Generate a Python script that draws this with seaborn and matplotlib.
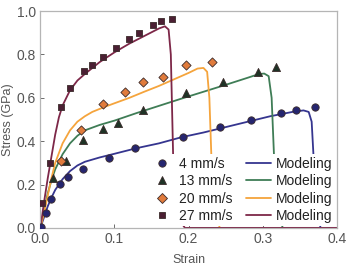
import matplotlib
matplotlib.use("Agg")
import matplotlib.pyplot as plt
from matplotlib.lines import Line2D
import seaborn as sns

# experimental points (strain, stress GPa)
x_4 = [0.001, 0.008, 0.015, 0.027, 0.037, 0.058, 0.093, 0.127, 0.193, 0.242, 0.284, 0.325, 0.345, 0.371]
y_4 = [0.005, 0.068, 0.134, 0.202, 0.234, 0.271, 0.324, 0.367, 0.418, 0.464, 0.497, 0.530, 0.544, 0.557]

x_13 = [0.017, 0.035, 0.058, 0.085, 0.105, 0.139, 0.197, 0.246, 0.294, 0.318]
y_13 = [0.228, 0.310, 0.404, 0.455, 0.485, 0.544, 0.624, 0.671, 0.720, 0.740]

x_20 = [0.028, 0.055, 0.085, 0.114, 0.139, 0.166, 0.196, 0.231]
y_20 = [0.310, 0.452, 0.571, 0.628, 0.672, 0.697, 0.751, 0.766]

x_27 = [0.002, 0.013, 0.028, 0.040, 0.059, 0.070, 0.085, 0.102, 0.120, 0.133, 0.152, 0.163, 0.178]
y_27 = [0.115, 0.300, 0.560, 0.645, 0.723, 0.751, 0.790, 0.830, 0.870, 0.900, 0.935, 0.955, 0.965]

# modeling curves
mx_4 = [0, 0.005, 0.01, 0.015, 0.02, 0.03, 0.04, 0.05, 0.06, 0.08, 0.10, 0.13, 0.16, 0.19, 0.22, 0.25,
        0.28, 0.31, 0.34, 0.355, 0.362, 0.366, 0.369, 0.372, 0.378, 0.40]
my_4 = [0, 0.05, 0.10, 0.14, 0.175, 0.225, 0.262, 0.288, 0.305, 0.325, 0.342, 0.368, 0.39, 0.418, 0.44,
        0.465, 0.49, 0.515, 0.535, 0.542, 0.535, 0.49, 0.30, 0.10, 0.0, 0.0]

mx_13 = [0, 0.005, 0.01, 0.015, 0.02, 0.03, 0.04, 0.05, 0.06, 0.08, 0.10, 0.13, 0.16, 0.19, 0.22, 0.25,
         0.28, 0.295, 0.302, 0.308, 0.312, 0.315, 0.318, 0.327, 0.40]
my_13 = [0, 0.08, 0.16, 0.22, 0.27, 0.34, 0.39, 0.425, 0.45, 0.475, 0.495, 0.53, 0.563, 0.596, 0.628,
         0.66, 0.693, 0.71, 0.712, 0.70, 0.60, 0.35, 0.10, 0.0, 0.0]

mx_20 = [0, 0.005, 0.01, 0.015, 0.02, 0.03, 0.04, 0.05, 0.06, 0.07, 0.085, 0.10, 0.12, 0.14, 0.16, 0.18,
         0.20, 0.212, 0.22, 0.225, 0.228, 0.231, 0.234, 0.242, 0.40]
my_20 = [0, 0.07, 0.15, 0.23, 0.30, 0.39, 0.45, 0.49, 0.515, 0.535, 0.556, 0.575, 0.60, 0.628, 0.655,
         0.685, 0.715, 0.735, 0.738, 0.72, 0.60, 0.30, 0.10, 0.0, 0.0]

mx_27 = [0, 0.005, 0.01, 0.015, 0.02, 0.025, 0.03, 0.04, 0.05, 0.06, 0.08, 0.10, 0.12, 0.14, 0.16,
         0.168, 0.173, 0.176, 0.178, 0.18, 0.185, 0.195, 0.40]
my_27 = [0, 0.12, 0.23, 0.33, 0.43, 0.51, 0.565, 0.635, 0.68, 0.71, 0.765, 0.81, 0.85, 0.885, 0.92,
         0.93, 0.915, 0.80, 0.50, 0.20, 0.05, 0.0, 0.0]

labels = ["4 mm/s", "13 mm/s", "20 mm/s", "27 mm/s"]
line_colors = ["#35358f", "#3f7d56", "#f5a43c", "#7d2748"]
pt_colors = ["#25256f", "#1f3326", "#e07b3c", "#4b1f33"]
markers = ["o", "^", "D", "s"]
sizes = [28, 34, 22, 24]

sns.set_style("ticks")
plt.rcParams["font.family"] = ["Liberation Sans", "DejaVu Sans"]

fig = plt.figure(figsize=(3.48, 2.65), dpi=100)
ax = fig.add_axes([0.116, 0.14, 0.852, 0.818])

curves = [(mx_4, my_4), (mx_13, my_13), (mx_20, my_20), (mx_27, my_27)]
points = [(x_4, y_4), (x_13, y_13), (x_20, y_20), (x_27, y_27)]

for (cx, cy), c in zip(curves, line_colors):
    sns.lineplot(x=cx, y=cy, ax=ax, color=c, lw=1.3, sort=False, estimator=None)

for (px, py), c, m, s in zip(points, pt_colors, markers, sizes):
    sns.scatterplot(x=px, y=py, ax=ax, color=c, marker=m, s=s,
                    edgecolor="#3a2a2a", linewidth=0.6, zorder=3)

ax.set_xlim(0, 0.4)
ax.set_ylim(0, 1.0)
ax.set_xticks([0, 0.1, 0.2, 0.3, 0.4])
ax.set_yticks([0, 0.2, 0.4, 0.6, 0.8, 1.0])
ax.set_xticklabels(["0.0", "0.1", "0.2", "0.3", "0.4"])
ax.set_yticklabels(["0.0", "0.2", "0.4", "0.6", "0.8", "1.0"])
ax.tick_params(direction="in", length=3, width=0.6, labelsize=10, colors="#555555", pad=3)
for sp in ax.spines.values():
    sp.set_color("#b5b5b5")
    sp.set_linewidth(0.9)
ax.set_xlabel("Strain", fontsize=9, color="#555555", labelpad=6)
ax.set_ylabel("Stress (GPa)", fontsize=9, color="#555555", labelpad=2)

handles = []
for c, m, s in zip(pt_colors, markers, sizes):
    handles.append(Line2D([], [], ls="none", marker=m, color=c, markersize=s ** 0.5,
                          markeredgecolor="#3a2a2a", markeredgewidth=0.6))
for c in line_colors:
    handles.append(Line2D([], [], color=c, lw=1.3))
leg = ax.legend(handles, labels + ["Modeling"] * 4, ncol=2, loc="lower right",
                bbox_to_anchor=(1.0, 0.0), fontsize=10, frameon=True, framealpha=1,
                edgecolor="none", facecolor="white", fancybox=False, handlelength=1.75,
                handletextpad=0.35, columnspacing=1.0, labelspacing=0.25,
                borderpad=0.2, borderaxespad=0.15)
for t in leg.get_texts():
    t.set_color("#222222")

fig.savefig("out.png", dpi=100)
